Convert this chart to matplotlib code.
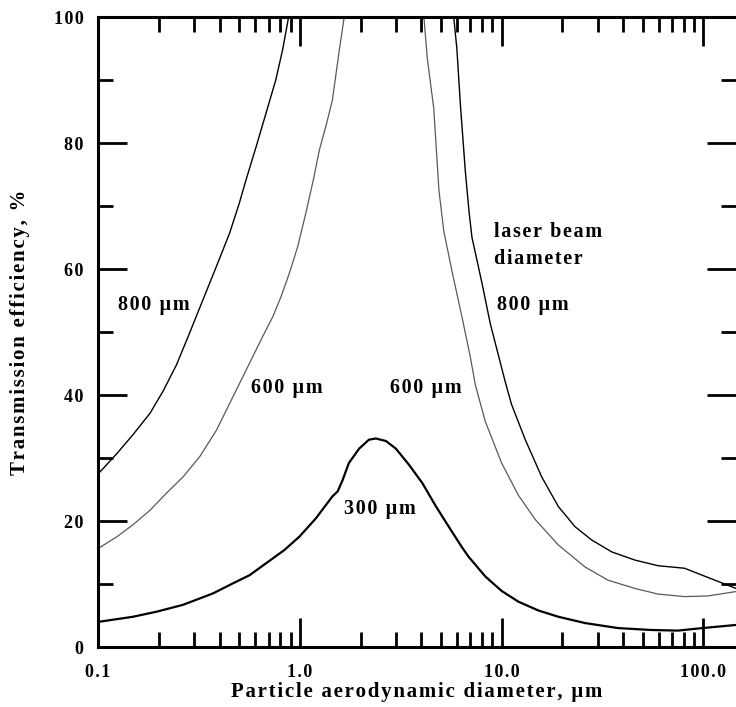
import matplotlib
matplotlib.use("Agg")
import matplotlib.pyplot as plt
from matplotlib.ticker import LogLocator, MultipleLocator, FixedLocator, NullFormatter

# Data (particle diameter in um, transmission efficiency in %)
x300 = [0.101, 0.149, 0.195, 0.264, 0.371, 0.466, 0.564, 0.839, 0.994, 1.20, 1.45, 1.54,
        1.63, 1.75, 1.97, 2.20, 2.38, 2.67, 2.99, 3.48, 4.05, 4.71, 5.47, 6.37, 6.87, 8.3,
        10.0, 12.1, 15.2, 19.1, 25.9, 37.8, 55.2, 74.8, 98.5, 145.0]
y300 = [4.0, 4.8, 5.6, 6.7, 8.5, 10.1, 11.4, 15.4, 17.5, 20.4, 23.9, 24.7,
        26.5, 29.2, 31.5, 32.9, 33.1, 32.7, 31.5, 28.9, 26.0, 22.4, 19.1, 15.8, 14.3, 11.2,
        8.9, 7.2, 5.8, 4.8, 3.8, 3.0, 2.7, 2.6, 3.0, 3.5]

x600 = [0.101, 0.124, 0.149, 0.181, 0.218, 0.264, 0.319, 0.386, 0.466, 0.522, 0.585,
        0.655, 0.734, 0.807, 0.887, 0.975, 1.07, 1.166, 1.25, 1.35, 1.45, 1.57, 1.66,
        4.12, 4.28, 4.61, 4.89, 5.17, 5.69, 6.36, 7.0, 7.41, 8.3, 10.0, 12.1, 14.7,
        19.1, 25.9, 33.7, 45.7, 59.6, 80.7, 105.0, 145.0]
y600 = [15.7, 17.5, 19.4, 21.7, 24.4, 27.0, 30.2, 34.4, 39.7, 42.9, 46.1,
        49.3, 52.4, 55.6, 59.3, 63.5, 68.8, 74.1, 78.9, 82.8, 86.8, 94.8, 100.0,
        100.0, 93.5, 85.5, 72.5, 66.0, 59.5, 52.4, 46.0, 41.6, 35.8, 29.2, 24.1, 20.2,
        16.2, 12.7, 10.6, 9.3, 8.4, 8.0, 8.1, 8.8]

x800 = [0.101, 0.124, 0.149, 0.181, 0.210, 0.245, 0.284, 0.331, 0.386, 0.449, 0.502,
        0.542, 0.61, 0.681, 0.76, 0.822, 0.88,
        5.79, 6.0, 6.25, 6.61, 6.9, 7.13, 8.0, 8.79, 9.66, 10.4, 11.2, 13.1, 15.8, 19.1,
        23.1, 27.9, 35.1, 45.7, 59.6, 80.7, 98.5, 145.0]
y800 = [27.6, 30.7, 33.7, 37.1, 40.6, 44.8, 49.8, 55.1, 60.4, 65.7, 70.5,
        74.2, 79.6, 84.8, 90.0, 94.8, 100.0,
        100.0, 95.0, 86.0, 75.5, 69.0, 65.0, 57.7, 51.3, 46.2, 42.2, 38.5, 32.9, 27.0, 22.3,
        19.1, 17.0, 15.1, 13.8, 12.9, 12.5, 11.4, 9.3]

ytick_vals = [0, 20, 40, 60, 80, 100]
ytick_labels = ["0", "20", "40", "60", "80", "100"]
xtick_vals = [0.1, 1.0, 10.0, 100.0]
xtick_labels = ["0.1", "1.0", "10.0", "100.0"]

plt.rcParams['font.family'] = ['Liberation Serif', 'DejaVu Serif']
plt.rcParams['font.weight'] = 'bold'

HS = '\u200a'
def spaced(s):
    return HS.join(list(s))

fig = plt.figure(figsize=(7.36, 7.07), dpi=100)
ax = fig.add_axes([98/736, 1 - 647/707, (736 - 98)/736, (647 - 17)/707])

ax.plot(x800, y800, color='black', lw=1.0, solid_joinstyle='round')
ax.plot(x600, y600, color='0.35', lw=0.9, solid_joinstyle='round')
ax.plot(x300, y300, color='black', lw=1.6, solid_joinstyle='round')

ax.set_xscale('log')
ax.set_xlim(0.1, 145)
ax.set_ylim(0, 100)

ax.xaxis.set_major_locator(FixedLocator(xtick_vals))
ax.set_xticklabels([spaced(t) for t in xtick_labels])
ax.xaxis.set_minor_locator(LogLocator(base=10, subs=range(2, 10), numticks=20))
ax.xaxis.set_minor_formatter(NullFormatter())
ax.yaxis.set_major_locator(FixedLocator(ytick_vals))
ax.set_yticklabels([spaced(t) for t in ytick_labels])
ax.yaxis.set_minor_locator(MultipleLocator(10))

ax.tick_params(which='both', direction='in', top=True, right=True, width=2, labelsize=13)
ax.tick_params(axis='x', pad=12)
ax.tick_params(axis='y', pad=10.5)
ax.tick_params(which='major', length=21)
ax.tick_params(which='minor', length=11)
for lab in ax.get_xticklabels() + ax.get_yticklabels():
    lab.set_fontweight('bold')

for s in ['left', 'bottom', 'top']:
    ax.spines[s].set_linewidth(2.2)
ax.spines['right'].set_visible(False)

ax.set_xlabel(spaced('Particle aerodynamic diameter, \u00b5m'), fontsize=15, fontweight='bold')
ax.xaxis.label.set_va('center')
ax.xaxis.set_label_coords(0.5, (647 - 692) / 630)
ax.set_ylabel(spaced('Transmission efficiency, %'), fontsize=15, fontweight='bold')
ax.yaxis.label.set_va('center')
ax.yaxis.set_label_coords((20 - 98) / 638, 0.5)

kw = dict(fontsize=14.5, fontweight='bold', va='center', ha='left', transform=fig.transFigure)
def fx(px):
    return px / 736
def fy(py):
    return 1 - py / 707

fig.text(fx(118), fy(305), spaced('800 \u00b5m'), **kw)
fig.text(fx(251), fy(388), spaced('600 \u00b5m'), **kw)
fig.text(fx(390), fy(388), spaced('600 \u00b5m'), **kw)
fig.text(fx(344), fy(509), spaced('300 \u00b5m'), **kw)
fig.text(fx(494), fy(232), spaced('laser beam'), **kw)
fig.text(fx(494), fy(259), spaced('diameter'), **kw)
fig.text(fx(497), fy(305), spaced('800 \u00b5m'), **kw)

fig.savefig('out.png', dpi=100)
